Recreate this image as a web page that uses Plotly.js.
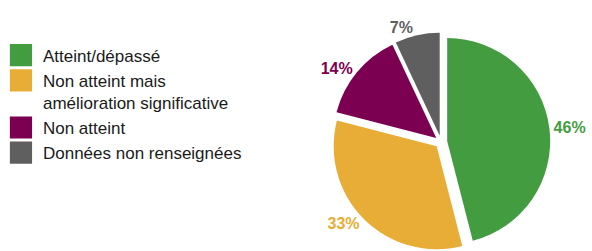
<!DOCTYPE html>
<html>
<head>
<meta charset="utf-8">
<script src="https://cdn.plot.ly/plotly-3.0.1.min.js"></script>
<style>
html,body{margin:0;padding:0;background:#fff;}
#chart{width:592px;height:251px;}
</style>
</head>
<body>
<div id="chart"></div>
<script>
const categories = ["Atteint/dépassé", "Non atteint mais<br>amélioration significative", "Non atteint", "Données non renseignées"];
const values = [46, 33, 14, 7];
const colors = ["#449c41", "#e7ad36", "#7c0051", "#5f5f5f"];

const trace = {
  type: "pie",
  labels: categories,
  values: values,
  sort: false,
  direction: "clockwise",
  rotation: 0,
  pull: [0.06, 0.06, 0.06, 0.06],
  marker: {colors: colors, line: {color: "#ffffff", width: 0}},
  textposition: "outside",
  texttemplate: "<b>%{percent:.0%}</b>",
  textfont: {family: "Liberation Sans, Arial, sans-serif", size: 16, color: colors},
  hoverinfo: "none",
  domain: {x: [0.555, 0.935], y: [0.0, 0.87]}
};

const layout = {
  width: 592,
  height: 251,
  margin: {l: 0, r: 0, t: 0, b: 0},
  paper_bgcolor: "#ffffff",
  showlegend: true,
  legend: {
    x: 0.005, y: 0.85, xanchor: "left", yanchor: "top",
    font: {family: "Liberation Sans, Arial, sans-serif", size: 17, color: "#1a1a1a"},
    bgcolor: "rgba(0,0,0,0)",
    traceorder: "normal"
  },
  font: {family: "Liberation Sans, Arial, sans-serif"}
};

Plotly.newPlot("chart", [trace], layout, {displayModeBar: false, staticPlot: true}).then(function(gd){
  function fix(){
    document.querySelectorAll("#chart .legend .traces").forEach(function(t, i){
      var pts = t.querySelector(".legendpoints");
      if (!pts) return;
      var lines = t.querySelectorAll("text.legendtext tspan.line").length;
      var dy = lines > 1 ? -11 : 0;
      pts.setAttribute("transform", "translate(18," + dy + ")");
      pts.querySelectorAll("path").forEach(function(p){
        p.setAttribute("transform", "scale(1.85)");
        p.style.strokeWidth = "0";
      });
    });
  }
  fix();
  gd.on("plotly_afterplot", fix);
});
</script>
</body>
</html>
